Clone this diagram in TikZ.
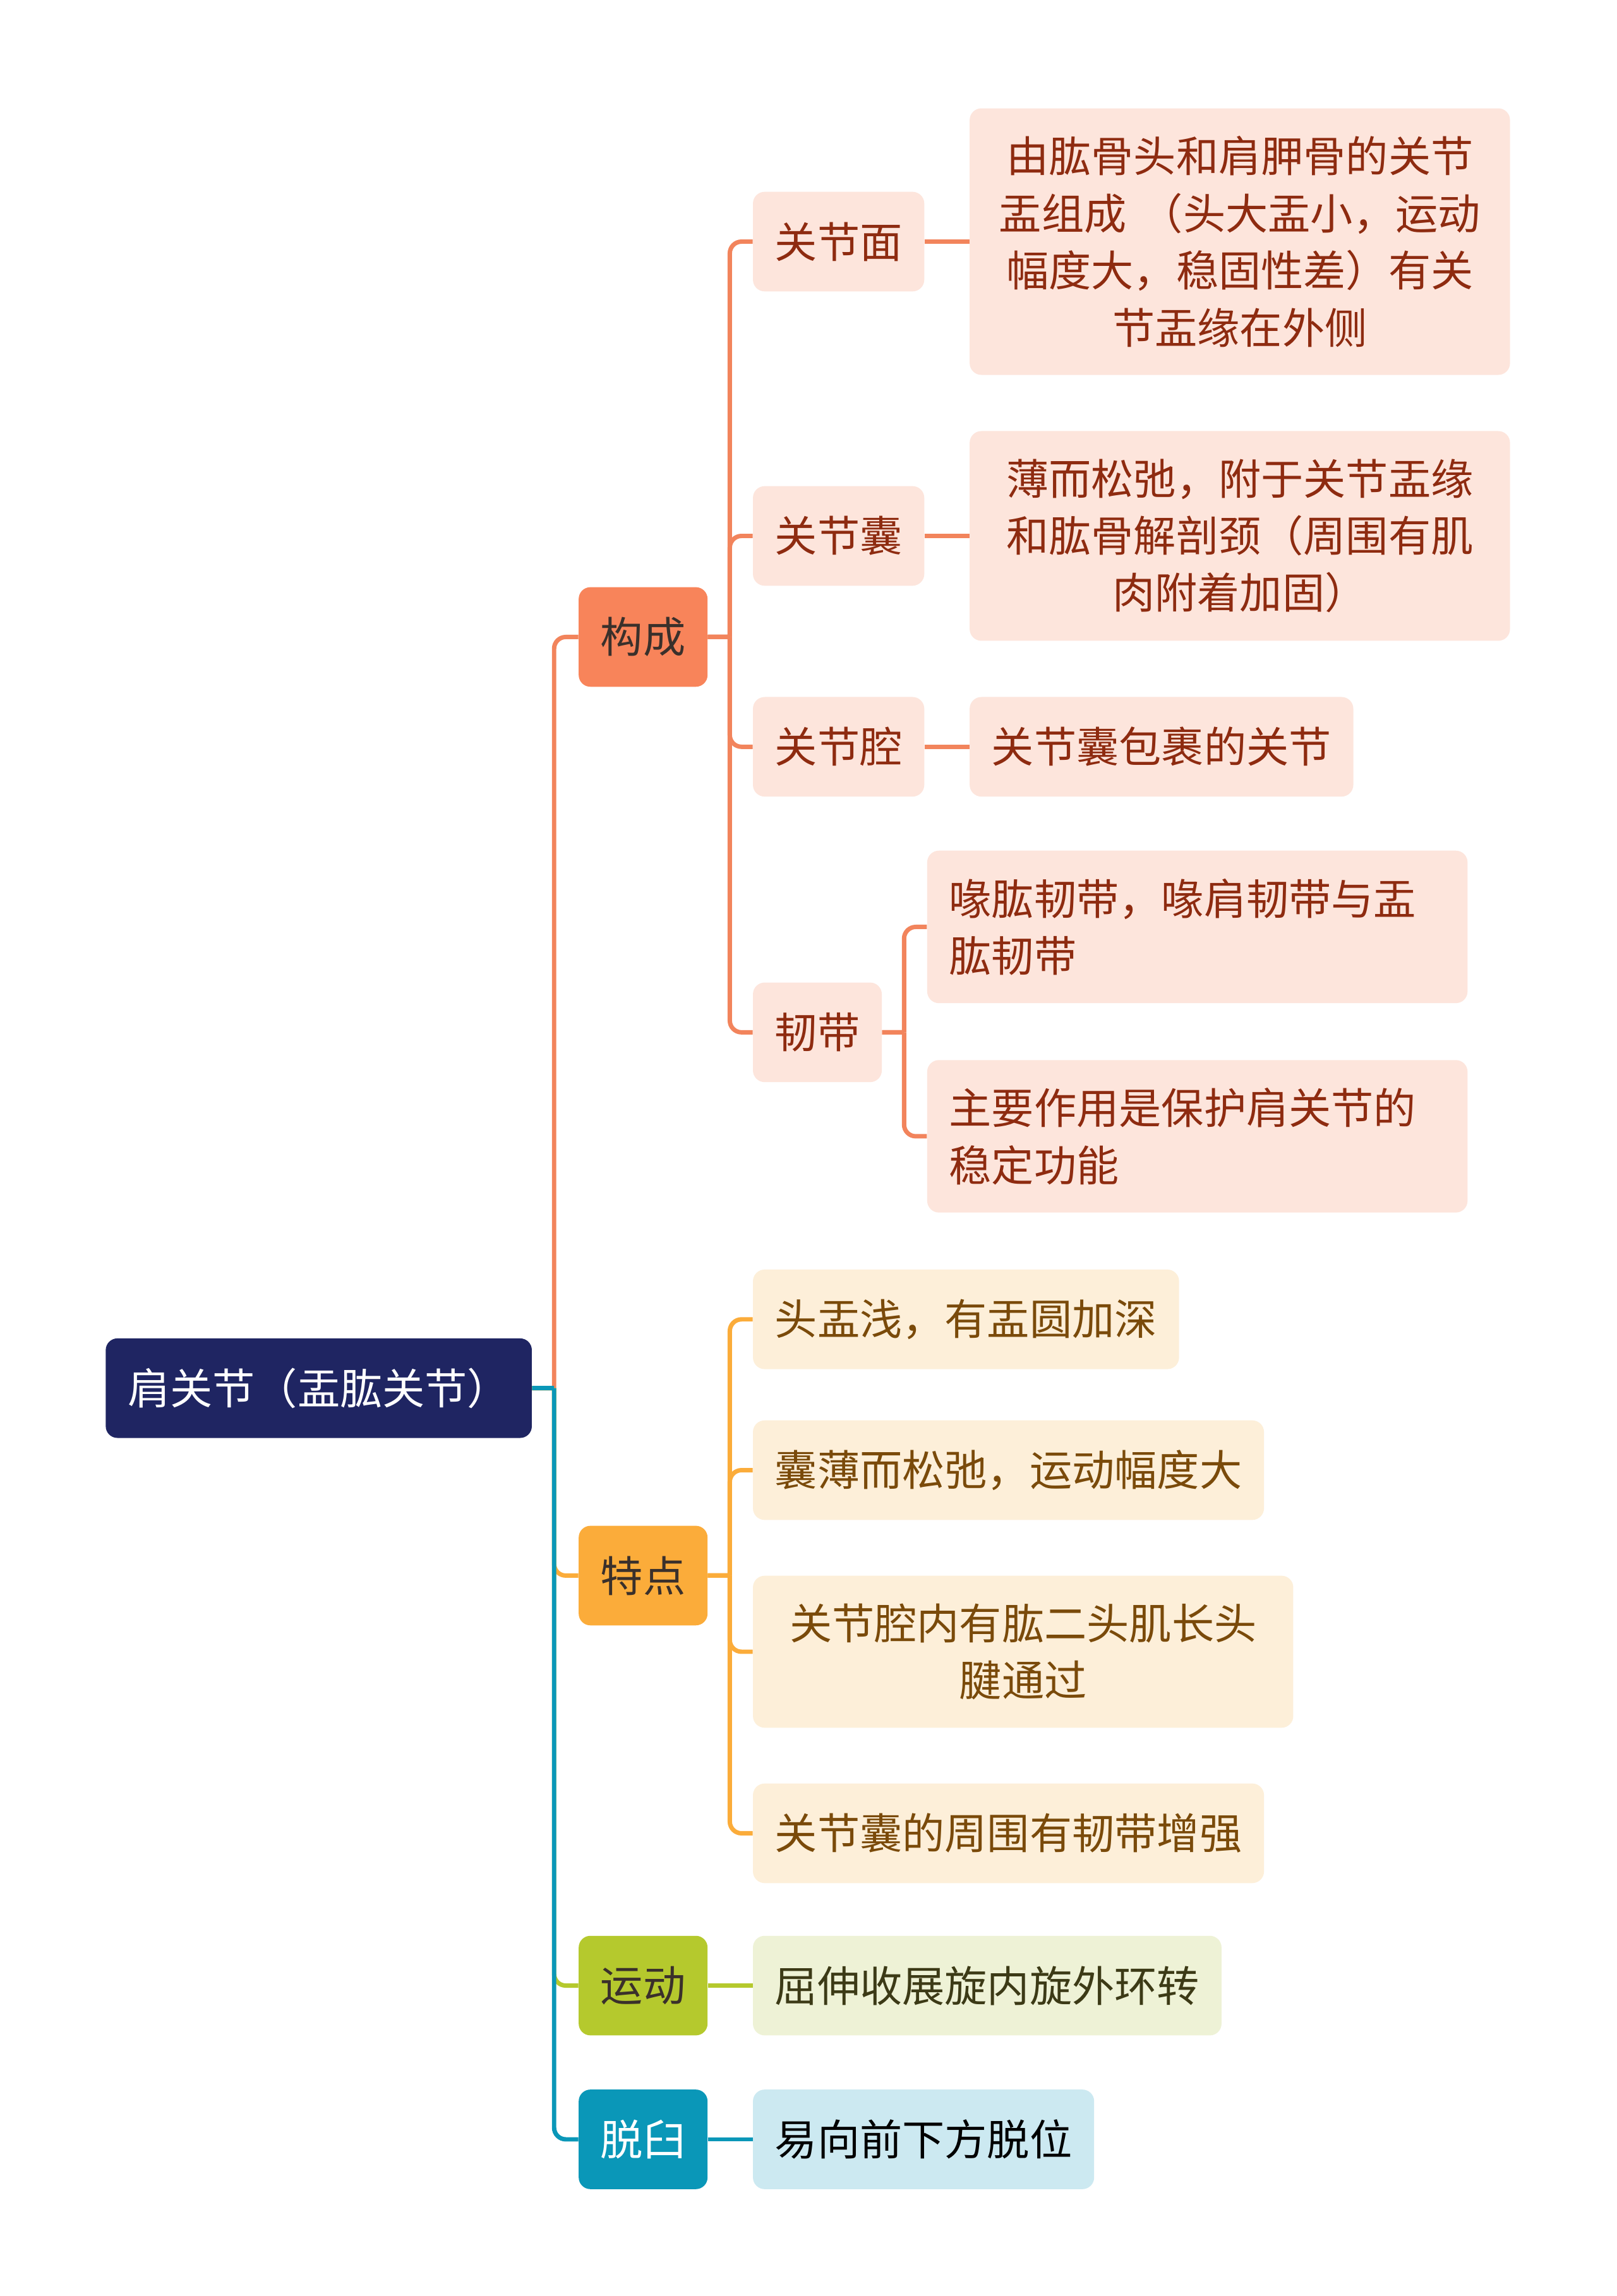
\documentclass[tikz,border=0pt]{standalone}
\usepackage{fontspec}
\setmainfont{Noto Sans CJK SC}
\usepackage{tikz}
\definecolor{rootfill}{HTML}{1F2562}
\definecolor{gcfill}{HTML}{F8845A}
\definecolor{gcline}{HTML}{F2845C}
\definecolor{gcsub}{HTML}{FDE5DC}
\definecolor{gctext}{HTML}{8E2B10}
\definecolor{tdfill}{HTML}{FBAC3A}
\definecolor{tdsub}{HTML}{FDEFD9}
\definecolor{tdtext}{HTML}{7A4A0A}
\definecolor{ydfill}{HTML}{B5C92D}
\definecolor{ydsub}{HTML}{EEF2D6}
\definecolor{ydtext}{HTML}{3C3A16}
\definecolor{tjfill}{HTML}{0A97B8}
\definecolor{tjsub}{HTML}{CCE9F1}
\definecolor{darktext}{HTML}{3A302B}
\tikzset{
  box/.style={rounded corners=8pt, inner xsep=15pt, inner ysep=19pt, minimum height=68pt,
    anchor=west, font=\fontsize{29}{39}\selectfont},
  rootbox/.style={box, fill=rootfill, text=white},
  gcbox/.style={box, fill=gcfill, text=darktext},
  gcleaf/.style={box, fill=gcsub, text=gctext},
  tdbox/.style={box, fill=tdfill, text=darktext},
  tdleaf/.style={box, fill=tdsub, text=tdtext},
  ydbox/.style={box, fill=ydfill, text=darktext},
  ydleaf/.style={box, fill=ydsub, text=ydtext},
  tjbox/.style={box, fill=tjfill, text=white},
  tjleaf/.style={box, fill=tjsub, text=black},
  elbow/.style={to path={(\tikztostart.east) -- ++(15,0)
    (\tikztostart.east) ++(15,0) [rounded corners=8pt] |- (\tikztotarget.west)}},
}
\begin{document}
\begin{tikzpicture}[x=1pt,y=-1pt]
    \path[use as bounding box, fill=white] (0,0) rectangle (1104,1568);

    \node[rootbox] (0) at (72,948) {肩关节（盂肱关节）};

    \node[gcbox] (1) at (395,435) {构成};
    \node[tdbox] (2) at (395,1076) {特点};
    \node[ydbox] (3) at (395,1356) {运动};
    \node[tjbox] (4) at (395,1461) {脱臼};

    \node[gcleaf] (5) at (514,165) {关节面};
    \node[gcleaf] (6) at (514,366) {关节囊};
    \node[gcleaf] (7) at (514,510) {关节腔};
    \node[gcleaf] (8) at (514,705) {韧带};

    \node[gcleaf, text width=339pt, align=center] (9) at (662,165)
      {由肱骨头和肩胛骨的关节\\盂组成 （头大盂小，运动\\幅度大，稳固性差）有关\\节盂缘在外侧};
    \node[gcleaf, text width=339pt, align=center] (10) at (662,366)
      {薄而松弛，附于关节盂缘\\和肱骨解剖颈（周围有肌\\肉附着加固）};
    \node[gcleaf] (11) at (662,510) {关节囊包裹的关节};
    \node[gcleaf, text width=339pt, align=left] (12) at (633,633)
      {喙肱韧带，喙肩韧带与盂\\肱韧带};
    \node[gcleaf, text width=339pt, align=left] (13) at (633,776)
      {主要作用是保护肩关节的\\稳定功能};

    \node[tdleaf] (14) at (514,901) {头盂浅，有盂圆加深};
    \node[tdleaf] (15) at (514,1004) {囊薄而松弛，运动幅度大};
    \node[tdleaf, text width=339pt, align=center] (16) at (514,1128)
      {关节腔内有肱二头肌长头\\腱通过};
    \node[tdleaf] (17) at (514,1252) {关节囊的周围有韧带增强};

    \node[ydleaf] (18) at (514,1356) {屈伸收展旋内旋外环转};
    \node[tjleaf] (19) at (514,1461) {易向前下方脱位};

    \path[line width=3pt]
    (0) edge [elbow, draw=gcline] (1)
    (0) edge [elbow, draw=tdfill] (2)
    (0) edge [elbow, draw=ydfill] (3)
    (0) edge [elbow, draw=tjfill] (4)

    (1) edge [elbow, draw=gcline] (5)
    (1) edge [elbow, draw=gcline] (6)
    (1) edge [elbow, draw=gcline] (7)
    (1) edge [elbow, draw=gcline] (8)

    (5) edge [draw=gcline] (9)
    (6) edge [draw=gcline] (10)
    (7) edge [draw=gcline] (11)
    (8) edge [elbow, draw=gcline] (12)
    (8) edge [elbow, draw=gcline] (13)

    (2) edge [elbow, draw=tdfill] (14)
    (2) edge [elbow, draw=tdfill] (15)
    (2) edge [elbow, draw=tdfill] (16)
    (2) edge [elbow, draw=tdfill] (17)

    (3) edge [draw=ydfill] (18)
    (4) edge [draw=tjfill] (19);
\end{tikzpicture}
\end{document}
